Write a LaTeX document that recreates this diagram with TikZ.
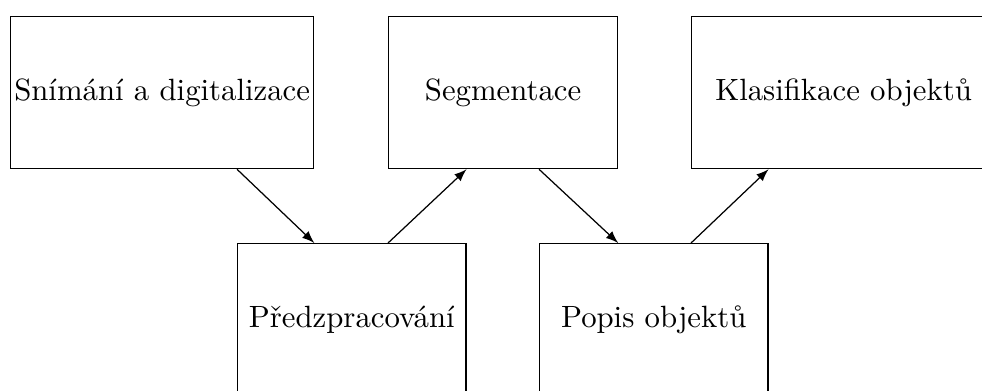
\documentclass[tikz,border=0pt]{standalone}
\usepackage{tikz}

\begin{document}
\begin{tikzpicture}[x = 0.325pt,
y = -0.325pt,
krok/.style = {draw, anchor=north west, inner sep=1pt,
  minimum width=74.2pt, minimum height=49.4pt},
sipka/.style = {-latex}]
\clip (0,0) rectangle (982,390);

\node[krok, minimum width=98.5pt] (snimani) at (10,16) {Snímání a digitalizace};
\node[krok, minimum width=74.4pt] (segmentace) at (388,16) {Segmentace};
\node[krok, minimum width=98.8pt] (klasifikace) at (691,16) {Klasifikace objektů};

\node[krok] (predzpracovani) at (237,243) {Předzpracování};
\node[krok] (popis) at (539,243) {Popis objektů};

\draw[sipka] (snimani.south -| predzpracovani.west) -- (predzpracovani.north -| snimani.east);
\draw[sipka] (predzpracovani.north -| segmentace.west) -- (segmentace.south -| predzpracovani.east);
\draw[sipka] (segmentace.south -| popis.west) -- (popis.north -| segmentace.east);
\draw[sipka] (popis.north -| klasifikace.west) -- (klasifikace.south -| popis.east);
\end{tikzpicture}
\end{document}
